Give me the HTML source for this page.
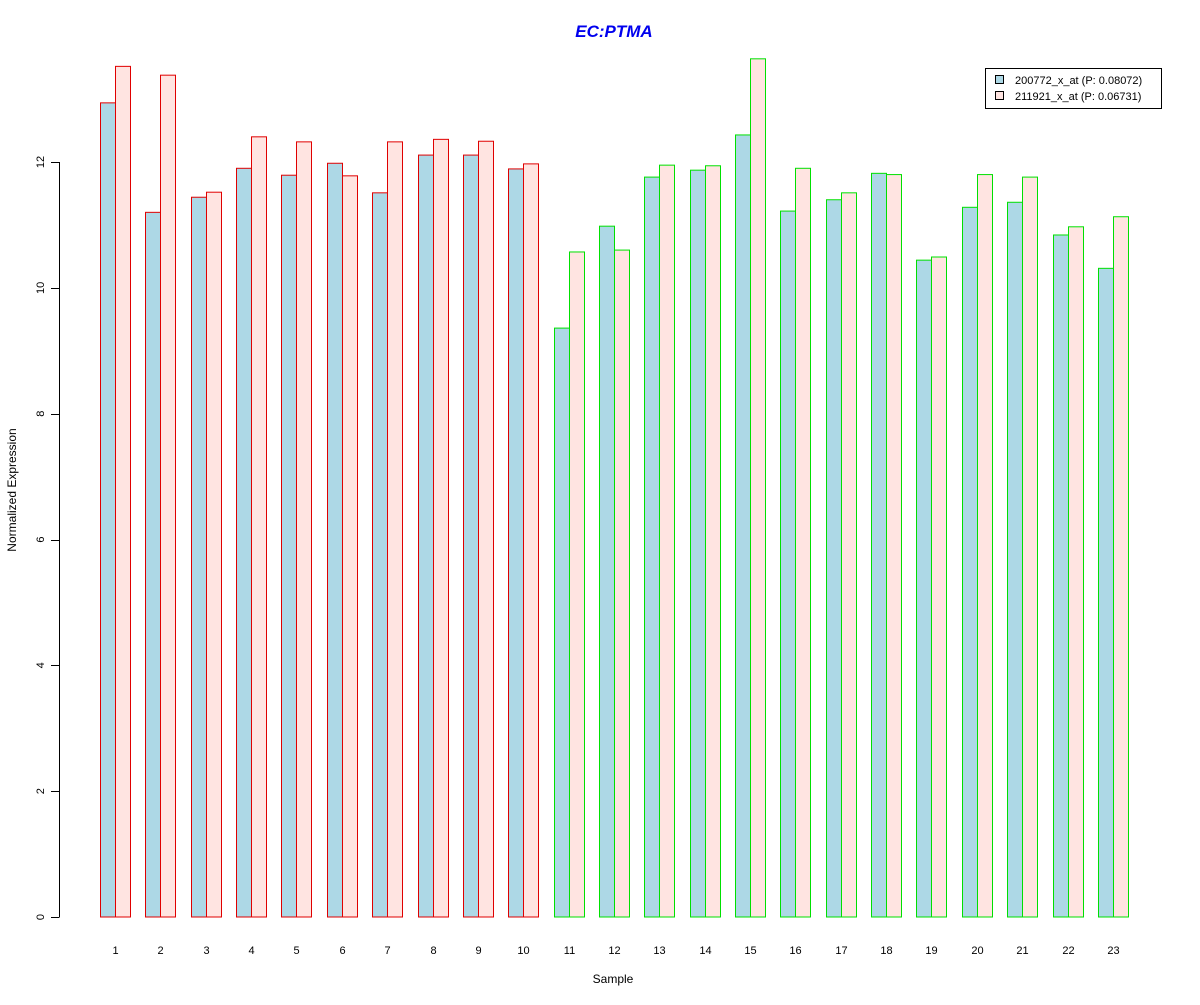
<!DOCTYPE html>
<html><head><meta charset="utf-8"><style>
body{margin:0;background:#fff}
svg text{font-family:"Liberation Sans",Arial,sans-serif}
</style></head><body>
<svg id="chart" width="1200" height="1000" xmlns="http://www.w3.org/2000/svg">
<rect width="1200" height="1000" fill="#fff"/>
<text x="614" y="37" text-anchor="middle" font-size="17" font-weight="bold" font-style="italic" fill="#0000ee">EC:PTMA</text>
<text x="613" y="983" text-anchor="middle" font-size="12">Sample</text>
<text transform="translate(16,490) rotate(-90)" text-anchor="middle" font-size="12">Normalized Expression</text>
<g id="yaxis"></g>
<g id="bars"></g>
<g id="xlabels"></g>
<g>
<rect x="985.5" y="68.5" width="176" height="40" fill="#fff" stroke="#000"/>
<g><rect x="995.5" y="75.5" width="8" height="8" fill="#add8e6" stroke="#000"/>
<text x="1015" y="84" font-size="11">200772_x_at (P: 0.08072)</text></g>
<g><rect x="995.5" y="91.5" width="8" height="8" fill="#ffe4e1" stroke="#000"/>
<text x="1015" y="100" font-size="11">211921_x_at (P: 0.06731)</text></g>
</g>
</svg>
<script>
const samples=["1","2","3","4","5","6","7","8","9","10","11","12","13","14","15","16","17","18","19","20","21","22","23"];
const series1=[12.94,11.2,11.44,11.9,11.79,11.98,11.51,12.11,12.11,11.89,9.36,10.98,11.76,11.87,12.43,11.22,11.4,11.82,10.44,11.28,11.36,10.84,10.31];
const series2=[13.52,13.38,11.52,12.4,12.32,11.78,12.32,12.36,12.33,11.97,10.57,10.6,11.95,11.94,13.64,11.9,11.51,11.8,10.49,11.8,11.76,10.97,11.13];
const groups=["red","red","red","red","red","red","red","red","red","red","green","green","green","green","green","green","green","green","green","green","green","green","green"];
const yTicks=[0,2,4,6,8,10,12];
const NS="http://www.w3.org/2000/svg";
const y=v=>917-v*(917-162)/12;
const x=i=>100+i*45.36;
const strokeCol={red:"#e00000",green:"#00e000"};
const yg=document.getElementById("yaxis");
function mk(t,a,p){const e=document.createElementNS(NS,t);for(const k in a)e.setAttribute(k,a[k]);p.appendChild(e);return e;}
const ax=mk("line",{x1:59.5,x2:59.5,y1:y(0),y2:y(12),stroke:"#000"},yg);


yTicks.forEach(v=>{
 const l=mk("line",{x1:51,x2:59.5,y1:Math.round(y(v))+0.5,y2:Math.round(y(v))+0.5,stroke:"#000"},yg);
 
 
 const t=mk("text",{transform:`translate(44,${y(v)}) rotate(-90)`,"text-anchor":"middle","font-size":"11"},yg);
 t.textContent=v;
 
 
});
const bg=document.getElementById("bars"),xg=document.getElementById("xlabels");
samples.forEach((s,i)=>{
 const x0=Math.round(x(i))+0.5,c=strokeCol[groups[i]];
 const b1=mk("rect",{x:x0,y:y(series1[i]),width:15,height:y(0)-y(series1[i]),fill:"#add8e6",stroke:c},bg);
 
 
 const b2=mk("rect",{x:x0+15,y:y(series2[i]),width:15,height:y(0)-y(series2[i]),fill:"#ffe4e1",stroke:c},bg);
 
 
 const t=mk("text",{x:x0+15,y:954,"text-anchor":"middle","font-size":"11"},xg);
 t.textContent=s;
 
 
});
</script>
</body></html>
